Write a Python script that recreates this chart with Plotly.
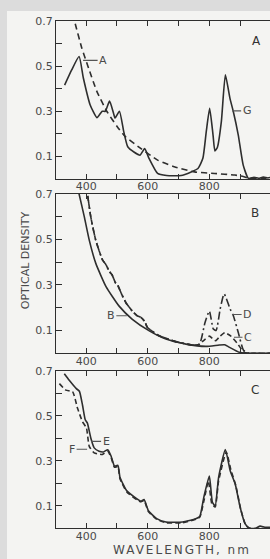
import plotly.graph_objects as go

# ---------------- data ----------------
# Panel A
wl_G = [330, 353, 377, 391, 413, 435, 452, 462, 476, 489, 494, 508, 522, 535, 555, 575, 590, 604, 632, 661, 708, 741, 763, 779, 790, 801, 812, 818, 826, 839, 852, 867, 878, 894, 910, 927, 945, 960, 975, 990, 1000]
od_G = [0.416, 0.483, 0.542, 0.446, 0.328, 0.272, 0.300, 0.300, 0.345, 0.290, 0.270, 0.300, 0.210, 0.143, 0.120, 0.106, 0.135, 0.092, 0.025, 0.016, 0.016, 0.032, 0.047, 0.092, 0.210, 0.313, 0.195, 0.125, 0.140, 0.254, 0.461, 0.357, 0.298, 0.195, 0.062, 0.003, 0.008, 0.004, 0.009, 0.005, 0.008]
wl_A = [358, 364, 386, 408, 435, 468, 501, 528, 577, 632, 686, 752, 817, 883, 910, 927, 960, 1000]
od_A = [0.73, 0.69, 0.579, 0.49, 0.387, 0.298, 0.232, 0.187, 0.136, 0.084, 0.055, 0.032, 0.025, 0.018, 0.012, 0.004, 0.003, 0.003]

# Panel B
wl_B = [370, 377, 394, 410, 431, 464, 507, 550, 605, 659, 724, 789, 832, 850, 864, 897, 920, 1000]
od_B = [0.74, 0.70, 0.599, 0.497, 0.396, 0.294, 0.207, 0.149, 0.098, 0.062, 0.040, 0.030, 0.036, 0.037, 0.027, 0.004, 0.0, 0.0]
wl_C = [395, 404, 415, 431, 453, 464, 475, 484, 495, 502, 515, 529, 550, 565, 578, 590, 599, 637, 691, 746, 768, 785, 800, 820, 835, 850, 870, 890, 912, 930, 1000]
od_C = [0.76, 0.70, 0.599, 0.497, 0.41, 0.39, 0.36, 0.345, 0.31, 0.30, 0.26, 0.222, 0.185, 0.165, 0.157, 0.14, 0.113, 0.077, 0.051, 0.036, 0.04, 0.06, 0.075, 0.055, 0.075, 0.09, 0.075, 0.045, 0.005, 0.0, 0.0]
wl_D = [395, 404, 415, 431, 453, 464, 475, 484, 495, 502, 515, 529, 550, 565, 578, 590, 599, 637, 691, 746, 768, 786, 800, 813, 822, 835, 848, 868, 878, 894, 911, 930, 1000]
od_D = [0.76, 0.70, 0.599, 0.497, 0.41, 0.39, 0.36, 0.345, 0.31, 0.30, 0.26, 0.222, 0.185, 0.165, 0.157, 0.14, 0.113, 0.077, 0.051, 0.036, 0.04, 0.135, 0.185, 0.106, 0.10, 0.193, 0.261, 0.193, 0.165, 0.091, 0.013, 0.0, 0.0]

# Panel C
wl_E = [329, 345, 368, 378, 388, 397, 404, 415, 426, 442, 456, 470, 481, 492, 503, 510, 532, 565, 578, 588, 602, 629, 659, 713, 756, 769, 782, 800, 810, 819, 830, 852, 868, 884, 900, 916, 930, 950, 965, 980, 1000]
od_E = [0.688, 0.659, 0.622, 0.61, 0.549, 0.483, 0.468, 0.402, 0.358, 0.343, 0.34, 0.35, 0.321, 0.277, 0.28, 0.226, 0.167, 0.131, 0.12, 0.128, 0.079, 0.043, 0.028, 0.028, 0.043, 0.053, 0.138, 0.233, 0.116, 0.10, 0.226, 0.351, 0.255, 0.197, 0.094, 0.021, 0.0, 0.0, 0.01, 0.005, 0.005]
wl_F = [313, 334, 356, 372, 388, 401, 410, 426, 453, 470, 481, 492, 503, 510, 532, 565, 578, 588, 602, 629, 659, 713, 756, 769, 782, 797, 808, 819, 830, 855, 870, 886, 902, 918, 932, 1000]
od_F = [0.644, 0.615, 0.608, 0.534, 0.475, 0.446, 0.365, 0.336, 0.329, 0.343, 0.315, 0.272, 0.275, 0.22, 0.162, 0.127, 0.118, 0.124, 0.075, 0.04, 0.025, 0.025, 0.04, 0.05, 0.12, 0.21, 0.11, 0.095, 0.21, 0.34, 0.26, 0.19, 0.085, 0.015, 0.0, 0.0]

x_ticks = [300, 400, 500, 600, 700, 800, 900]
x_ticktext = ["", "400", "", "600", "", "800", ""]
y_ticks = [0.1, 0.2, 0.3, 0.4, 0.5, 0.6, 0.7]
y_ticktext = ["0.1", "", "0.3", "", "0.5", "", "0.7"]

# ---------------- figure ----------------
INK = "#2e2e2e"
TXT = "#4a4a4a"
FONT = "DejaVu Sans"

fig = go.Figure()

def add(x, y, xa, ya, dash):
    fig.add_trace(go.Scatter(x=x, y=y, xaxis=xa, yaxis=ya, mode="lines",
                             line=dict(color=INK, width=1.6, dash=dash, shape="spline", smoothing=0.5),
                             showlegend=False, hoverinfo="skip"))

add(wl_G, od_G, "x", "y", "solid")
add(wl_A, od_A, "x", "y", "6px,4px")
add(wl_B, od_B, "x2", "y2", "solid")
add(wl_C, od_C, "x2", "y2", "5px,3px")
add(wl_D, od_D, "x2", "y2", "8px,3px,2px,3px")
add(wl_E, od_E, "x3", "y3", "solid")
add(wl_F, od_F, "x3", "y3", "5px,3px")

H = 559.0
doms = [[(H - 175) / H, (H - 15) / H], [(H - 351) / H, (H - 190) / H], [(H - 528) / H, (H - 369) / H]]

xcommon = dict(range=[302, 997], domain=[0, 1], showgrid=False, zeroline=False,
               showline=True, linecolor=INK, linewidth=1.3, mirror="ticks",
               ticks="inside", ticklen=5, tickwidth=1.2, tickcolor=INK,
               tickvals=x_ticks, ticktext=x_ticktext, ticklabelstandoff=-3,
               tickfont=dict(family=FONT, size=11, color=TXT))
ycommon = dict(range=[0, 0.7], showgrid=False, zeroline=False,
               showline=True, linecolor=INK, linewidth=1.3, mirror=False,
               ticks="inside", ticklen=6, tickwidth=1.2, tickcolor=INK,
               tickvals=y_ticks, ticktext=y_ticktext,
               tickfont=dict(family=FONT, size=11, color=TXT))
yright = dict(range=[0, 0.7], showgrid=False, zeroline=False, showline=False,
              side="right", ticks="inside", ticklen=7, tickwidth=1.2, tickcolor=INK,
              tickvals=y_ticks, showticklabels=False)

layout = dict(width=270, height=559, autosize=False,
              margin=dict(l=56, r=0, t=0, b=0),
              paper_bgcolor="#dcdcdc", plot_bgcolor="rgba(0,0,0,0)",
              showlegend=False)
for i, suf in enumerate(["", "2", "3"]):
    layout["xaxis" + suf] = dict(xcommon, anchor="y" + suf)
    layout["yaxis" + suf] = dict(ycommon, domain=doms[i], anchor="x" + suf)
    layout["yaxis" + str(4 + i)] = dict(yright, overlaying="y" + suf, anchor="x" + suf)
fig.update_layout(**layout)

# paper sheet
fig.add_shape(type="rect", xref="paper", yref="paper", x0=-49 / 214, x1=1.0,
              y0=-0.01, y1=(H - 5) / H, fillcolor="#f4f4f2", line=dict(width=0), layer="below")

ann = []
def letter(txt, xa, ya, x, y):
    ann.append(dict(text=txt, xref=xa, yref=ya, x=x, y=y, showarrow=False,
                    font=dict(family=FONT, size=12, color="#333"), xanchor="center", yanchor="middle"))

def tag(txt, xa, ya, x, y, ax):
    ann.append(dict(text=txt, xref=xa, yref=ya, x=x, y=y, ax=ax, ay=0, showarrow=True,
                    arrowhead=0, arrowwidth=1.1, arrowcolor="#555", standoff=0,
                    font=dict(family=FONT, size=11, color=TXT)))

letter("A", "x", "y", 952, 0.612)
letter("B", "x2", "y2", 948, 0.618)
letter("C", "x3", "y3", 948, 0.616)

tag("A", "x", "y", 390, 0.525, 20)
tag("G", "x", "y", 874, 0.302, 15)
tag("B", "x2", "y2", 532, 0.165, -16)
tag("D", "x2", "y2", 874, 0.170, 15)
tag("C", "x2", "y2", 880, 0.070, 14)
tag("E", "x3", "y3", 416, 0.387, 15)
tag("F", "x3", "y3", 403, 0.352, -15)

ann.append(dict(text="OPTICAL DENSITY", xref="paper", yref="paper", x=-31 / 214, y=(H - 257) / H,
                textangle=-90, showarrow=False, font=dict(family=FONT, size=11, color=TXT),
                xanchor="center", yanchor="middle"))
ann.append(dict(text='<span style="letter-spacing:2px">WAVELENGTH, nm</span>', xref="paper", yref="paper",
                x=(182 - 56) / 214, y=(H - 550) / H,
                showarrow=False, font=dict(family=FONT, size=12, color=TXT),
                xanchor="center", yanchor="middle"))
fig.update_layout(annotations=ann)

post = ("document.documentElement.style.margin='0';document.documentElement.style.overflow='hidden';"
        "document.body.style.margin='0';document.body.style.padding='0';document.body.style.overflow='hidden';"
        "var d=document.getElementById('{plot_id}');d.style.position='absolute';d.style.left='0px';d.style.top='0px';")
fig.write_html("out.html", post_script=post, config={"displayModeBar": False})
